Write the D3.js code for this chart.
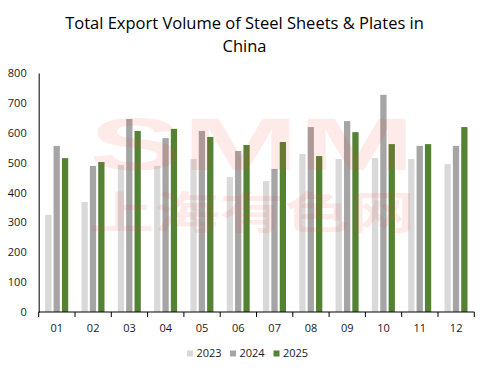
<!DOCTYPE html>
<html><head><meta charset="utf-8">
<script src="https://cdn.jsdelivr.net/npm/d3@7"></script>
<style>body{margin:0;background:#fff;} svg{display:block;font-family:"Open Sans","Liberation Sans",sans-serif;}</style>
</head><body><svg id="c" width="489" height="374"></svg>
<script>
const months = ["01","02","03","04","05","06","07","08","09","10","11","12"];
const seriesNames = ["2023","2024","2025"];
const v2023 = [325,368,492,489,512,452,438,529,512,515,512,495];
const v2024 = [556,489,646,582,606,539,479,619,639,727,556,556];
const v2025 = [515,502,606,613,586,559,569,522,602,562,562,619];
const yTicks = [0,100,200,300,400,500,600,700,800];
const colors = ["#D9D9D9","#A5A5A5","#548235"];
const values = [v2023, v2024, v2025];

const svg = d3.select("#c");
const x = d3.scaleBand().domain(months).range([38.7, 474.3]).padding(0);
const y = d3.scaleLinear().domain([0, 800]).range([312, 73]);
const inner = d3.scaleBand().domain(seriesNames).range([6.5, 29.5]).paddingInner(0.25);

// title
const title = svg.append("text").attr("text-anchor","middle").attr("fill","#000")
  .style("font-size","16.5px");
title.append("tspan").attr("x",244.5).attr("y",29).text("Total Export Volume of Steel Sheets & Plates in");
title.append("tspan").attr("x",244.5).attr("y",52).text("China");

// bars
seriesNames.forEach((s, i) => {
  svg.append("g").selectAll("rect").data(values[i]).join("rect")
    .attr("x", (d, j) => x(months[j]) + inner(s))
    .attr("width", inner.bandwidth())
    .attr("y", d => y(d))
    .attr("height", d => y(0) - y(d))
    .attr("fill", colors[i]);
});

// watermark
const wm = svg.append("g").attr("opacity",0.1).attr("fill","#ff3b3b");
wm.append("text").attr("x",252).attr("y",170).attr("text-anchor","middle")
  .style("font-size","74px").style("font-weight","bold").style("font-family","Liberation Sans, sans-serif")
  .attr("textLength",326).attr("lengthAdjust","spacingAndGlyphs").text("SMM");
wm.append("text").attr("x",252).attr("y",229).attr("text-anchor","middle")
  .style("font-size","44px").style("font-weight","bold").style("font-family","Noto Sans CJK SC")
  .attr("textLength",326).attr("lengthAdjust","spacingAndGlyphs").text("上海有色网");

// y axis
const yAxis = d3.axisLeft(y).tickValues(yTicks).tickSize(0).tickPadding(12);
const gy = svg.append("g").attr("transform","translate(38.7,0)").call(yAxis);
gy.select(".domain").attr("stroke","#000");
gy.selectAll("text").style("font-size","11px").attr("fill","#1a1a1a").style("font-family","Open Sans, sans-serif");

// x axis
const gx = svg.append("g").attr("transform","translate(0,312)");
gx.append("line").attr("x1",38.7).attr("x2",474.3).attr("stroke","#000");
const edges = months.map(m => x(m)).concat([x.range()[1]]);
gx.selectAll("line.t").data(edges).join("line").attr("class","t")
  .attr("x1",d=>d).attr("x2",d=>d).attr("y1",0).attr("y2",5).attr("stroke","#000");
gx.selectAll("text").data(months).join("text")
  .attr("x", d => x(d) + x.bandwidth()/2).attr("y", 20)
  .attr("text-anchor","middle").style("font-size","11px").attr("fill","#1a1a1a").text(d=>d);

// legend
const lg = svg.append("g");
const lx = [187, 230, 273.5];
seriesNames.forEach((s,i) => {
  lg.append("rect").attr("x",lx[i]).attr("y",350.5).attr("width",6).attr("height",6).attr("fill",colors[i]);
  lg.append("text").attr("x",lx[i]+9.5).attr("y",357).style("font-size","11px").attr("fill","#1a1a1a").text(s);
});
</script></body></html>
